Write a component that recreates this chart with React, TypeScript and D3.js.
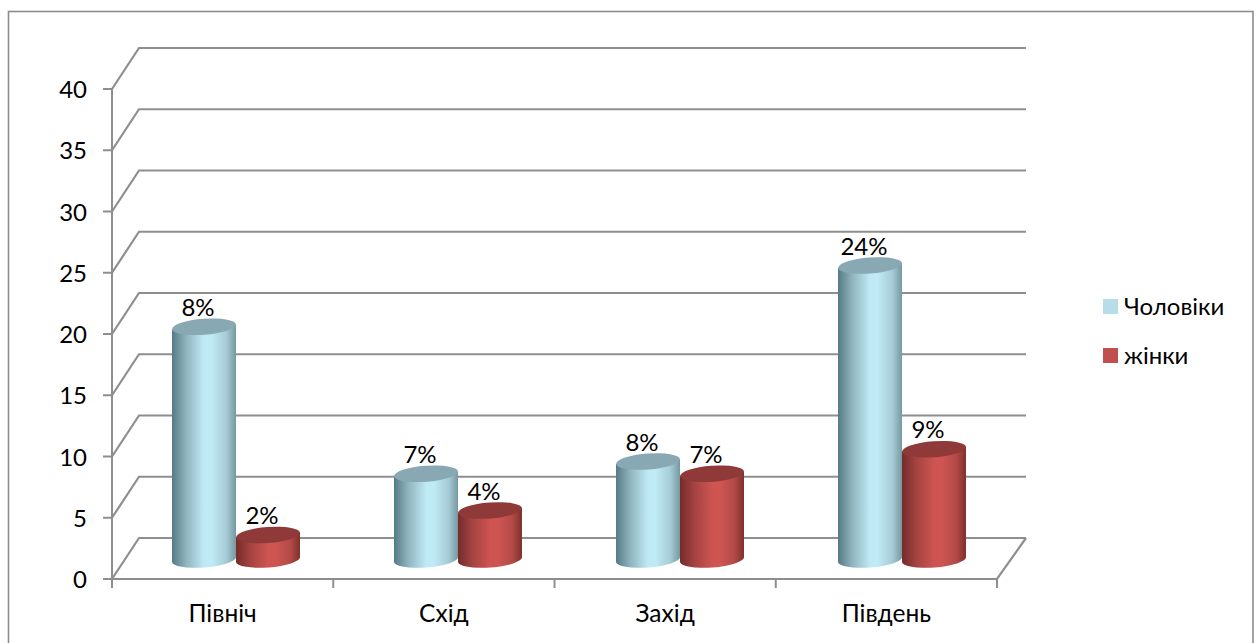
import React from "react";
import * as d3 from "d3";

const categories = ["Північ", "Схід", "Захід", "Південь"];
const seriesNames = ["Чоловіки", "жінки"];
const menValues = [19, 7, 8, 24];
const womenValues = [2, 4, 7, 9];
const menLabels = ["8%", "7%", "8%", "24%"];
const womenLabels = ["2%", "4%", "7%", "9%"];
const yTicks = [0, 5, 10, 15, 20, 25, 30, 35, 40];

const FONT = "Lato, 'Open Sans', sans-serif";
const GRID = "#8e8e8e";
const depthX = 27;
const depthY = -41;

const y = d3.scaleLinear().domain([0, 40]).range([579, 89]);
const x = d3.scaleBand().domain(categories).range([112, 997]);
// Cylinders stand on the middle plane of the floor, set back from the front edge.
const barX = d3.scaleBand().domain(categories).range([125, 1013]);
const barW = 64;
const offset = d3.scaleBand().domain(seriesNames).range([-barW, barW]);

const palette = [
  { id: "men", top: "#88a9b3", swatch: "#b7dde8", stops: ["#557a85", "#8fb4be", "#bfe9f4", "#c0eaf5", "#a5cbd6", "#76999f"] },
  { id: "women", top: "#8f3a38", swatch: "#c0504d", stops: ["#752c2a", "#a34341", "#cd5451", "#cf5552", "#b34a47", "#7f302e"] },
];
const stopAt = [0, 0.22, 0.5, 0.62, 0.85, 1];

const rx = barW / 2;
const ry = 8;
const tilt = 2.4;
const tiltDeg = (Math.atan2(2 * tilt, barW) * 180) / Math.PI;

const planeY = (v: number) => y(v) + depthY / 2 + 1;
const barCx = (c: string, s: string) =>
  (barX(c) as number) + barX.bandwidth() / 2 + (offset(s) as number) + barW / 2;

// Cylinder body and lid, with ends leaning slightly as in a rotated 3-D view.
function Cylinder({ cx, value, tone }: { cx: number; value: number; tone: (typeof palette)[number] }) {
  const base = planeY(0);
  const top = planeY(value);
  const lx = cx - rx;
  const rxEnd = cx + rx;
  const body = `M${lx},${top + tilt} L${lx},${base + tilt} A${rx},${ry} ${-tiltDeg} 0 0 ${rxEnd},${base - tilt} L${rxEnd},${top - tilt} Z`;
  return (
    <g>
      <path d={body} fill={`url(#grad-${tone.id})`} />
      <ellipse cx={cx} cy={top} rx={rx} ry={ry} fill={tone.top} transform={`rotate(${-tiltDeg} ${cx} ${top})`} />
    </g>
  );
}

export default function App() {
  const textProps = { fontFamily: FONT, fill: "#000" };
  const rows = [
    { name: seriesNames[0], values: menValues, labels: menLabels, tone: palette[0] },
    { name: seriesNames[1], values: womenValues, labels: womenLabels, tone: palette[1] },
  ];
  const xEdges = [...categories.map((c) => x(c) as number), 997];

  return (
    <svg width={1259} height={643} style={{ position: "absolute", left: 0, top: 0, background: "#fff" }}>
      <defs>
        {palette.map((p) => (
          <linearGradient key={p.id} id={`grad-${p.id}`} x1="0" x2="1" y1="0" y2="0">
            {p.stops.map((c, i) => (
              <stop key={i} offset={stopAt[i]} stopColor={c} />
            ))}
          </linearGradient>
        ))}
      </defs>

      <rect x={8.5} y={11.5} width={1244.5} height={640} fill="#fff" stroke="#8c8c8c" strokeWidth={1.6} />

      {/* Side wall and back wall gridlines */}
      {yTicks.map((t) => (
        <polyline
          key={t}
          points={`${112},${y(t)} ${112 + depthX},${y(t) + depthY} ${997 + depthX + 2},${y(t) + depthY}`}
          fill="none"
          stroke={GRID}
          strokeWidth={2.2}
        />
      ))}

      {/* Floor edges */}
      <polyline points={`112,${y(0)} 997,${y(0)} ${997 + depthX + 2},${y(0) + depthY}`} fill="none" stroke={GRID} strokeWidth={2.2} />

      {/* Value axis */}
      <line x1={112} x2={112} y1={y(40)} y2={y(0) + 9} stroke={GRID} strokeWidth={2} />
      {yTicks.map((t) => (
        <g key={t}>
          <line x1={103} x2={112} y1={y(t)} y2={y(t)} stroke={GRID} strokeWidth={2} />
          <text x={87} y={y(t) + 9} textAnchor="end" fontSize={24} {...textProps}>
            {t}
          </text>
        </g>
      ))}

      {/* Category axis */}
      {xEdges.map((edge) => (
        <line key={edge} x1={edge} x2={edge} y1={y(0)} y2={y(0) + 9} stroke={GRID} strokeWidth={2} />
      ))}
      {categories.map((c) => (
        <text key={c} x={(x(c) as number) + x.bandwidth() / 2} y={622} textAnchor="middle" fontSize={24.5} {...textProps}>
          {c}
        </text>
      ))}

      {/* Cylinders, drawn back to front within each category */}
      {categories.map((c, i) => (
        <g key={c}>
          {rows.map((r) => (
            <Cylinder key={r.name} cx={barCx(c, r.name)} value={r.values[i]} tone={r.tone} />
          ))}
        </g>
      ))}

      {/* Value labels */}
      {categories.map((c, i) =>
        rows.map((r) => (
          <text
            key={r.name + c}
            x={barCx(c, r.name) - 6}
            y={planeY(r.values[i]) - 11}
            textAnchor="middle"
            fontSize={24}
            {...textProps}
          >
            {r.labels[i]}
          </text>
        ))
      )}

      {/* Legend */}
      {rows.map((r, i) => (
        <g key={r.name} transform={`translate(1103,${299 + i * 49})`}>
          <rect width={15} height={15} fill={r.tone.swatch} />
          <text x={21} y={16} fontSize={24} {...textProps}>
            {r.name}
          </text>
        </g>
      ))}
    </svg>
  );
}
